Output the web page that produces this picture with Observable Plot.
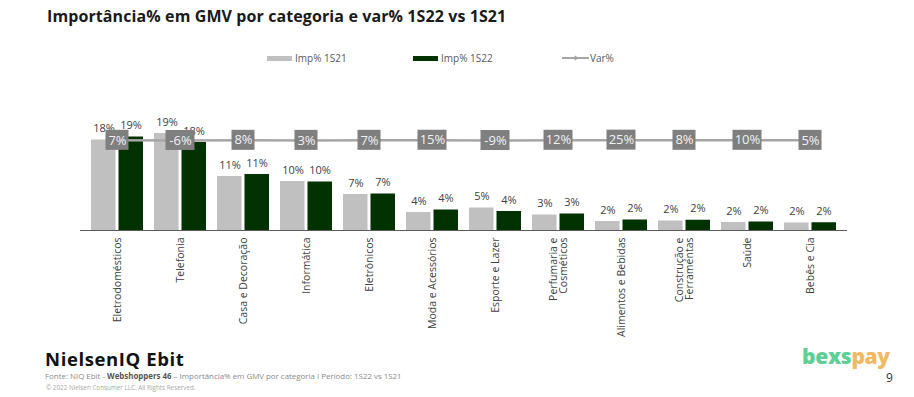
<!DOCTYPE html>
<html>
<head>
<meta charset="utf-8">
<script src="https://cdn.jsdelivr.net/npm/d3@7"></script>
<script src="https://cdn.jsdelivr.net/npm/@observablehq/plot@0.6"></script>
<style>
  body { margin: 0; background: #fff; font-family: "Open Sans", sans-serif; }
  #page { position: relative; width: 914px; height: 397px; overflow: hidden; background: #fff; }
  #title { position: absolute; left: 47px; top: 5px; font-size: 16px; font-weight: 700; color: #1a1a1a; white-space: nowrap; letter-spacing: 0.1px; }
  .leg { position: absolute; top: 51px; font-size: 10px; color: #595959; display: flex; align-items: center; white-space: nowrap; }
  .sw { display: inline-block; width: 25px; height: 5px; margin-right: 3px; }
  #chart { position: absolute; left: 0; top: 70px; }
  #brand { position: absolute; left: 45px; top: 346px; font-size: 18.5px; font-weight: 700; color: #111; letter-spacing: 0.6px; }
  #source { position: absolute; left: 45px; top: 371px; font-size: 7.9px; color: #8a8a8a; white-space: nowrap; }
  #copy { position: absolute; left: 46px; top: 383px; font-size: 6.3px; color: #a8a8a8; white-space: nowrap; }
  #logo { position: absolute; left: 802px; top: 342px; font-size: 21px; font-weight: 800; white-space: nowrap; letter-spacing: -0.3px; }
  #pnum { position: absolute; left: 886px; top: 369px; font-size: 12px; color: #333; }
</style>
</head>
<body>
<div id="page">
  <div id="title">Importância% em GMV por categoria e var% 1S22 vs 1S21</div>
  <div class="leg" style="left:267px"><span class="sw" style="background:#c0c0c0"></span>Imp% 1S21</div>
  <div class="leg" style="left:413px"><span class="sw" style="background:#023102"></span>Imp% 1S22</div>
  <div class="leg" style="left:562px"><svg width="27" height="8" style="margin-right:1px"><line x1="0" y1="4" x2="27" y2="4" stroke="#a6a6a6" stroke-width="2"/><path d="M13.5 1.5 L16 4 L13.5 6.5 L11 4 Z" fill="#a6a6a6"/></svg>Var%</div>
  <div id="chart"></div>
  <div id="brand">NielsenIQ Ebit</div>
  <div id="source">Fonte: NIQ Ebit - <b style="color:#555">Webshoppers 46</b> – Importância% em GMV por categoria I Período: 1S22 vs 1S21</div>
  <div id="copy">© 2022 Nielsen Consumer LLC. All Rights Reserved.</div>
  <div id="logo"><span style="color:#5ecf96">bexs</span><span style="color:#f1b865">pay</span></div>
  <div id="pnum">9</div>
</div>
<script>
const categories = ["Eletrodomésticos", "Telefonia", "Casa e Decoração", "Informática", "Eletrônicos",
  "Moda e Acessórios", "Esporte e Lazer", "Perfumaria e\nCosméticos", "Alimentos e Bebidas",
  "Construção e\nFerramentas", "Saúde", "Bebês e Cia"];
const imp1S21 = [18.1, 19.4, 10.8, 9.8, 7.2, 3.6, 4.5, 3.1, 1.8, 1.9, 1.6, 1.5];
const imp1S22 = [18.7, 17.6, 11.2, 9.7, 7.3, 4.1, 3.8, 3.3, 2.1, 2.05, 1.7, 1.55];
const varPct  = [7, -6, 8, 3, 7, 15, -9, 12, 25, 8, 10, 5];

// secondary (very wide) axis for Var% mapped onto the primary one: the line reads almost flat
const varAxis = d3.scaleLinear().domain([-8000, 3100]).range([0, 25]);

const data = categories.map((c, i) => ({
  cat: c, v21: imp1S21[i], v22: imp1S22[i], vr: varPct[i],
  vy: varAxis(varPct[i]),
  vlab: `${varPct[i]}%`
}));
const short = data.filter(d => d.vlab.length <= 2);
const long = data.filter(d => d.vlab.length > 2);

const pct = v => `${Math.round(v)}%`;

const chart = Plot.plot({
  width: 914,
  height: 280,
  marginLeft: 80,
  marginRight: 67,
  marginTop: 60,
  marginBottom: 120,
  style: { fontFamily: "Open Sans", fontSize: "10px", color: "#404040", background: "transparent" },
  x: { domain: categories, paddingInner: 0.17, paddingOuter: 0.086, label: null },
  y: { domain: [0, 20], axis: null },
  marks: [
    Plot.barY(data, { x: "cat", y: "v21", fill: "#c0c0c0", insetRight: 27.5 }),
    Plot.barY(data, { x: "cat", y: "v22", fill: "#023102", insetLeft: 27.5 }),
    Plot.ruleY([0], { stroke: "#595959", strokeWidth: 1.2 }),
    Plot.text(data, { x: "cat", y: "v21", text: d => pct(d.v21), dx: -13.5, dy: -8, lineAnchor: "bottom", fontSize: 11, fill: "#404040" }),
    Plot.text(data, { x: "cat", y: "v22", text: d => pct(d.v22), dx: 13.5, dy: -8, lineAnchor: "bottom", fontSize: 11, fill: "#404040" }),
    Plot.line(data, { x: "cat", y: "vy", stroke: "#a6a6a6", strokeWidth: 2.5 }),
    Plot.barY(short, { x: "cat", y1: d => d.vy - 2, y2: d => d.vy + 2, fill: "#7f7f7f", insetLeft: 14.5, insetRight: 14.5 }),
    Plot.barY(long, { x: "cat", y1: d => d.vy - 2, y2: d => d.vy + 2, fill: "#7f7f7f", insetLeft: 11.5, insetRight: 11.5 }),
    Plot.text(data, { x: "cat", y: "vy", text: "vlab", fill: "#f2f2f2", fontSize: 13 }),
    Plot.axisX({ tickRotate: -90, tickSize: 0, tickPadding: 7, fontSize: 10.5, fill: "#404040", label: null })
  ]
});
document.getElementById("chart").appendChild(chart);
</script>
</body>
</html>
